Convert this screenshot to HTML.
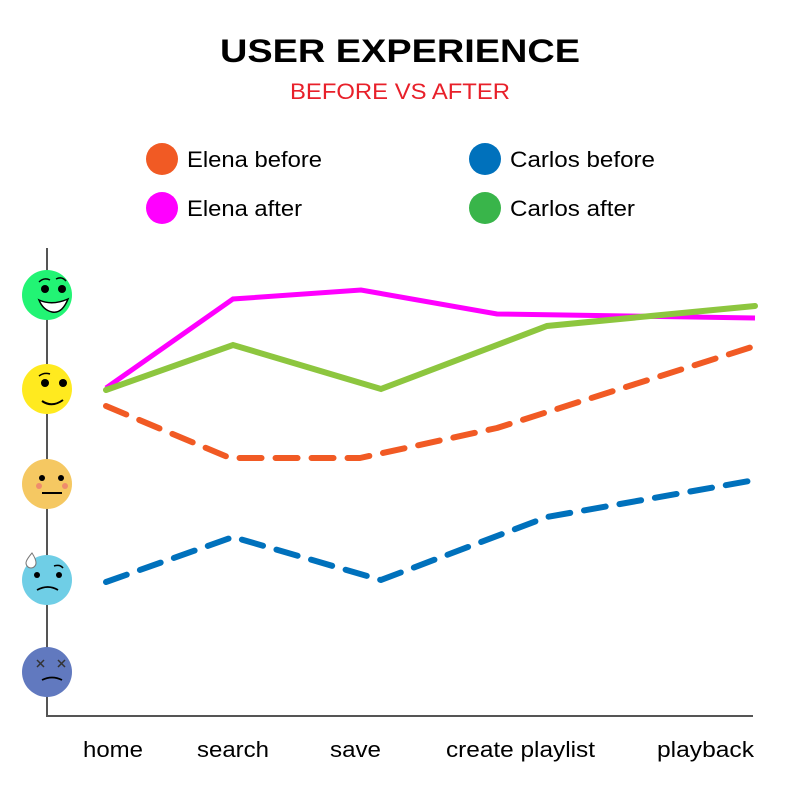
<!DOCTYPE html>
<html><head><style>body{margin:0;background:#fff}svg{display:block}</style></head><body>
<svg width="800" height="800" viewBox="0 0 800 800" font-family="Liberation Sans, sans-serif">
<text x="220" y="62" font-size="32" font-weight="bold" fill="#000" textLength="360" lengthAdjust="spacingAndGlyphs">USER EXPERIENCE</text>
<text x="290" y="99" font-size="22" fill="#e8202a" textLength="220" lengthAdjust="spacingAndGlyphs">BEFORE VS AFTER</text>
<circle cx="162" cy="159" r="16" fill="#f15a24"/><text x="187" y="167" font-size="22" textLength="135" lengthAdjust="spacingAndGlyphs">Elena before</text>
<circle cx="162" cy="208" r="16" fill="#ff00ff"/><text x="187" y="216" font-size="22" textLength="115" lengthAdjust="spacingAndGlyphs">Elena after</text>
<circle cx="485" cy="159" r="16" fill="#0071bc"/><text x="510" y="167" font-size="22" textLength="145" lengthAdjust="spacingAndGlyphs">Carlos before</text>
<circle cx="485" cy="208" r="16" fill="#39b54a"/><text x="510" y="216" font-size="22" textLength="125" lengthAdjust="spacingAndGlyphs">Carlos after</text>
<line x1="47" y1="248" x2="47" y2="716" stroke="#555" stroke-width="2"/>
<line x1="46" y1="716" x2="753" y2="716" stroke="#555" stroke-width="2"/>
<g font-size="22">
<text x="83" y="757" textLength="60" lengthAdjust="spacingAndGlyphs">home</text>
<text x="197" y="757" textLength="72" lengthAdjust="spacingAndGlyphs">search</text>
<text x="330" y="757" textLength="51" lengthAdjust="spacingAndGlyphs">save</text>
<text x="446" y="757" textLength="149" lengthAdjust="spacingAndGlyphs">create playlist</text>
<text x="657" y="757" textLength="97" lengthAdjust="spacingAndGlyphs">playback</text></g>
<!-- faces -->
<circle cx="47" cy="295" r="25" fill="#22f474"/>
<circle cx="45" cy="289" r="4" fill="#000"/><circle cx="62" cy="289" r="4" fill="#000"/>
<path d="M39 300 Q52 306 68 299 Q62 314 52 312 Q43 310 39 300Z" fill="#fff" stroke="#000" stroke-width="1.5"/>
<path d="M39 282 Q44 277 50 280 M56 279 Q62 276 66 281" stroke="#000" fill="none" stroke-width="1.5"/>
<circle cx="47" cy="389" r="25" fill="#ffea1f"/>
<circle cx="45" cy="383" r="4" fill="#000"/><circle cx="63" cy="383" r="4" fill="#000"/>
<path d="M42 401 Q52 408 63 400" stroke="#000" fill="none" stroke-width="2"/>
<path d="M39 376 Q44 372 50 374" stroke="#000" fill="none" stroke-width="1.5"/>
<circle cx="47" cy="484" r="25" fill="#f5c862"/>
<circle cx="42" cy="478" r="3" fill="#000"/><circle cx="61" cy="478" r="3" fill="#000"/>
<circle cx="39" cy="486" r="3" fill="#ef8c6c"/><circle cx="65" cy="486" r="3" fill="#ef8c6c"/>
<line x1="42" y1="493" x2="62" y2="493" stroke="#000" stroke-width="2"/>
<circle cx="47" cy="580" r="25" fill="#6fcee6"/>
<circle cx="37" cy="575" r="3" fill="#000"/><circle cx="59" cy="575" r="3" fill="#000"/>
<path d="M37 590 Q48 584 58 590" stroke="#000" fill="none" stroke-width="1.8"/>
<path d="M54 566 Q60 564 63 568" stroke="#000" fill="none" stroke-width="1.5"/>
<path d="M32 553 Q26 560 26 563 A5 5 0 0 0 36 563 Q36 559 32 553Z" fill="#fff" stroke="#777" stroke-width="1"/>
<circle cx="47" cy="672" r="25" fill="#6179bf"/>
<path d="M37 660 l7 7 M44 660 l-7 7 M58 660 l7 7 M65 660 l-7 7" stroke="#333" stroke-width="1.5"/>
<path d="M42 680 Q52 675 62 680" stroke="#000" fill="none" stroke-width="1.8"/>
<!-- series -->
<polyline points="106,582 233,537 381,580 547,517 755,480" fill="none" stroke="#0071bc" stroke-width="6" stroke-dasharray="22,14" stroke-linecap="round" stroke-linejoin="round"/>
<polyline points="106,406 230,458 360,458 497,428 755,346" fill="none" stroke="#f15a24" stroke-width="6" stroke-dasharray="22,14" stroke-linecap="round" stroke-linejoin="round"/>
<polyline points="106,388 233,299 361,290 497,314 755,318" fill="none" stroke="#ff00ff" stroke-width="5"/>
<polyline points="106,390 233,345 381,389 547,326 755,306" fill="none" stroke="#8dc63f" stroke-width="6" stroke-linecap="round"/>
</svg>
</body></html>
